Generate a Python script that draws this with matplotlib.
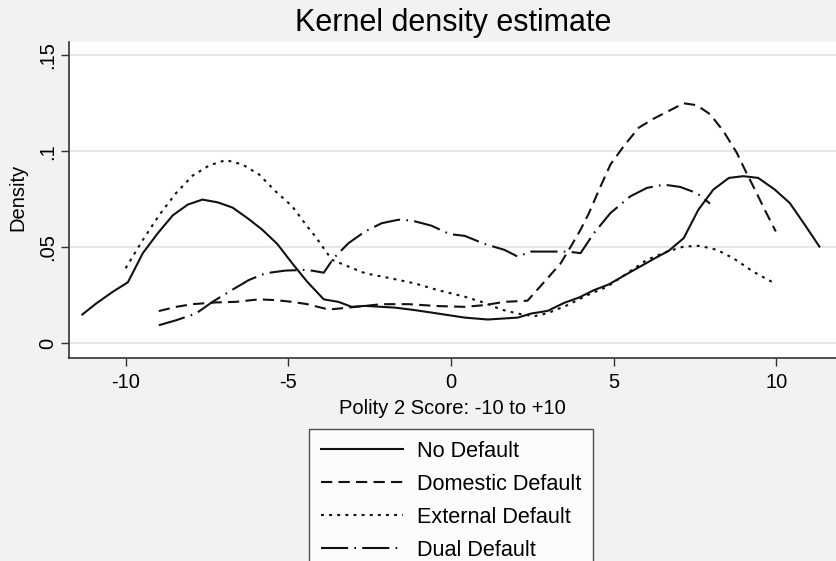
import matplotlib
matplotlib.use("Agg")
import matplotlib.pyplot as plt
from matplotlib.lines import Line2D

plt.rcParams['font.family'] = ['Liberation Sans', 'DejaVu Sans']

# Kernel density curves (Polity 2 score vs density) by default type
no_default_x = [-11.33, -10.9, -10.39, -9.93, -9.47, -9.01, -8.55, -8.09, -7.64, -7.18,
                -6.72, -6.26, -5.8, -5.34, -4.88, -4.42, -3.91, -3.46, -3.05, -2.64,
                -1.72, -1.11, -0.4, 0.42, 1.13, 2.05, 2.46, 2.97, 3.48, 3.94,
                4.39, 4.85, 5.31, 5.77, 6.23, 6.69, 7.15, 7.6, 8.06, 8.54,
                8.98, 9.44, 9.95, 10.41, 10.87, 11.32]
no_default_y = [0.0150, 0.0208, 0.0269, 0.0318, 0.0470, 0.0574, 0.0667, 0.0723, 0.0749, 0.0735,
                0.0708, 0.0653, 0.0592, 0.0518, 0.0417, 0.0321, 0.0229, 0.0216, 0.0190, 0.0195,
                0.0186, 0.0173, 0.0155, 0.0134, 0.0124, 0.0134, 0.0155, 0.0169, 0.0211, 0.0239,
                0.0277, 0.0307, 0.0352, 0.0396, 0.0440, 0.0482, 0.0548, 0.0696, 0.0801, 0.0862,
                0.0871, 0.0862, 0.0801, 0.0731, 0.0618, 0.0504]

domestic_x = [-8.98, -8.45, -7.94, -7.23, -6.62, -5.9, -5.39, -4.88, -4.42, -3.76,
              -3.15, -2.13, -1.31, -0.4, 0.42, 1.03, 1.64, 2.35, 2.97, 3.37,
              3.68, 3.98, 4.24, 4.55, 4.9, 5.31, 5.77, 6.23, 6.69, 7.15,
              7.55, 7.96, 8.37, 8.78, 9.08, 9.39, 9.69, 9.98]
domestic_y = [0.0168, 0.0190, 0.0204, 0.0213, 0.0216, 0.0229, 0.0225, 0.0216, 0.0204, 0.0176,
              0.0186, 0.0204, 0.0204, 0.0194, 0.0190, 0.0199, 0.0216, 0.0222, 0.0340, 0.0417,
              0.0504, 0.0592, 0.0679, 0.0801, 0.0932, 0.1028, 0.1124, 0.1171, 0.1211, 0.1251,
              0.1241, 0.1194, 0.1106, 0.0993, 0.0888, 0.0783, 0.0679, 0.0583]

external_x = [-10.0, -9.47, -8.96, -8.45, -7.94, -7.43, -6.92, -6.41, -5.9, -5.39,
              -4.88, -4.42, -4.17, -3.66, -2.64, -1.83, -1.11, -0.4, 0.42, 1.03,
              1.54, 2.05, 2.56, 2.97, 3.58, 4.19, 4.8, 5.41, 6.02, 6.64,
              7.15, 7.65, 8.17, 8.68, 9.29, 9.95]
external_y = [0.0391, 0.0539, 0.0670, 0.0783, 0.0874, 0.0927, 0.0955, 0.0932, 0.0880, 0.0792,
              0.0714, 0.0609, 0.0557, 0.0435, 0.0365, 0.0338, 0.0312, 0.0277, 0.0243, 0.0211,
              0.0176, 0.0155, 0.0141, 0.0157, 0.0199, 0.0251, 0.0295, 0.0365, 0.0435, 0.0478,
              0.0504, 0.0508, 0.0487, 0.0443, 0.0373, 0.0312]

dual_x = [-8.98, -8.45, -7.84, -7.33, -6.82, -6.21, -5.7, -5.09, -4.42, -3.91,
          -3.61, -3.15, -2.64, -2.13, -1.62, -1.21, -0.6, -0.04, 0.42, 1.03,
          1.64, 2.05, 2.46, 2.97, 3.58, 3.98, 4.39, 4.9, 5.51, 6.02,
          6.54, 7.04, 7.55, 7.96]
dual_y = [0.0094, 0.0120, 0.0155, 0.0216, 0.0269, 0.0330, 0.0365, 0.0379, 0.0383, 0.0368,
          0.0443, 0.0522, 0.0583, 0.0626, 0.0644, 0.0640, 0.0613, 0.0569, 0.0560, 0.0518,
          0.0487, 0.0452, 0.0478, 0.0478, 0.0478, 0.0470, 0.0574, 0.0679, 0.0766, 0.0810,
          0.0827, 0.0815, 0.0783, 0.0728]

labels = ["No Default", "Domestic Default", "External Default", "Dual Default"]
x_ticks = [-10, -5, 0, 5, 10]
x_tick_labels = ["-10", "-5", "0", "5", "10"]
y_ticks = [0, 0.05, 0.1, 0.15]
y_tick_labels = ["0", ".05", ".1", ".15"]

BG = "#f2f2f2"
INK = "#111111"
LW = 1.5
styles = [
    "-",
    (0, (5.4, 3.0)),
    (0, (1.4, 2.5)),
    (0, (13, 3.0, 0.8, 3.0)),
]

fig = plt.figure(figsize=(8.36, 5.61), dpi=100, facecolor=BG)
ax = fig.add_axes([0.0829, 0.3624, 0.9171, 0.5633])
ax.set_facecolor("white")

series = [(no_default_x, no_default_y), (domestic_x, domestic_y),
          (external_x, external_y), (dual_x, dual_y)]
for (xs, ys), ls, lab in zip(series, styles, labels):
    ax.plot(xs, ys, color=INK, lw=LW, linestyle=ls, label=lab)

ax.set_xlim(-11.73, 11.83)
ax.set_ylim(-0.0075, 0.1572)

for y in y_ticks:
    ax.axhline(y, color="#e8e8e8", lw=1.5, zorder=0)

ax.set_xticks(x_ticks)
ax.set_xticklabels(x_tick_labels)
ax.set_yticks(y_ticks)
ax.set_yticklabels(y_tick_labels, rotation=90, va="center")
ax.tick_params(axis="both", direction="out", length=6, width=1, color="#333333",
               labelsize=14.5, labelcolor="black")
ax.tick_params(axis="x", pad=5)
ax.tick_params(axis="y", pad=3)

for side in ["top", "right"]:
    ax.spines[side].set_visible(False)
for side in ["left", "bottom"]:
    ax.spines[side].set_color("#333333")
    ax.spines[side].set_linewidth(1.2)

fig.text(0.5425, 1 - 23 / 561, "Kernel density estimate", ha="center", va="center",
         fontsize=22)
fig.text(0.5415, 1 - 408 / 561, "Polity 2 Score: -10 to +10", ha="center", va="center",
         fontsize=14.5)
fig.text(18 / 836, 1 - 197 / 561, "Density", ha="center", va="center", rotation=90,
         fontsize=14.5)

handles = [Line2D([], [], color=INK, lw=LW, linestyle=ls) for ls in styles]
leg = fig.legend(handles, labels, loc="upper center", bbox_to_anchor=(451 / 836, 1 - 429 / 561),
                 frameon=True, fancybox=False, edgecolor="#222222", facecolor="white",
                 fontsize=15.6, handlelength=3.8, handletextpad=0.65, labelspacing=0.55,
                 borderpad=0.55, borderaxespad=0)
leg.get_frame().set_linewidth(1.0)

fig.savefig("out.png", dpi=100, facecolor=BG)
